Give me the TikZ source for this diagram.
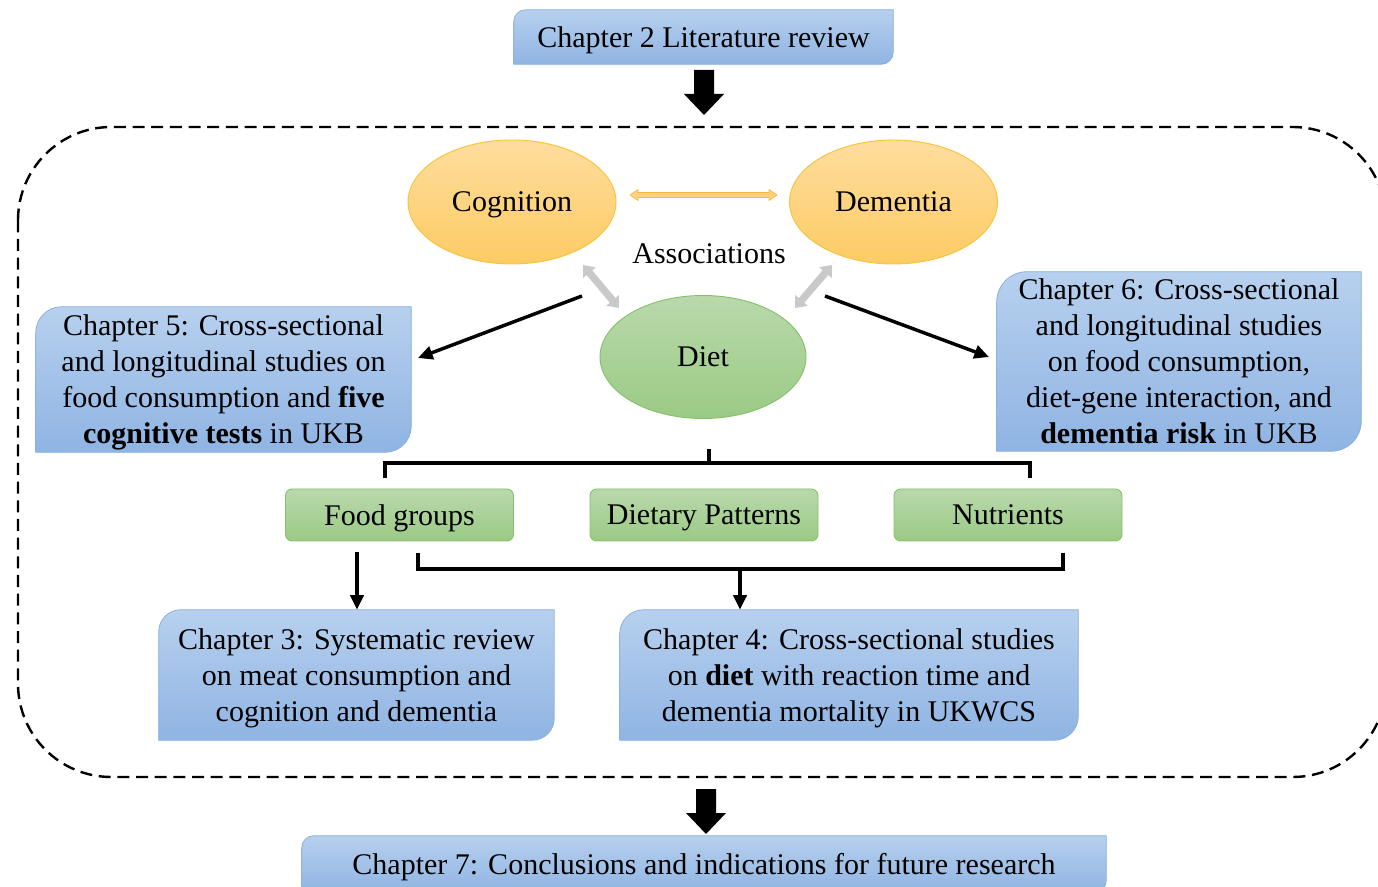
\documentclass[tikz,border=0pt]{standalone}
\usepackage{fontspec}
\setmainfont{Liberation Serif}
\usetikzlibrary{calc,arrows.meta,shapes.geometric}
\pgfdeclarelayer{bg}
\pgfsetlayers{bg,main}

\definecolor{bluetop}{HTML}{B7D0EE}
\definecolor{bluebot}{HTML}{8FB4E3}
\definecolor{blueline}{HTML}{8AB0E0}
\definecolor{orgtop}{HTML}{FEDD9E}
\definecolor{orgbot}{HTML}{FCCB63}
\definecolor{orgline}{HTML}{F8C33E}
\definecolor{grntop}{HTML}{B9D9AB}
\definecolor{grnbot}{HTML}{9BCA85}
\definecolor{grnline}{HTML}{86C06A}
\definecolor{arrowgray}{HTML}{C9C9C9}
\definecolor{assocfill}{HTML}{FFD27F}
\definecolor{assocline}{HTML}{F5B942}

% chapter box: top-left and bottom-right corners rounded (#2 = radius in px)
\newcommand\chapterback[2]{%
  \path[chapfill] let \p1=(#1.north west), \p2=(#1.south east), \p3=(#2,0) in
    (\x1,\y2) -- (\x1,\y1-\x3)
    .. controls (\x1,\y1-0.448*\x3) and (\x1+0.448*\x3,\y1) .. (\x1+\x3,\y1)
    -- (\x2,\y1) -- (\x2,\y2+\x3)
    .. controls (\x2,\y2+0.448*\x3) and (\x2-0.448*\x3,\y2) .. (\x2-\x3,\y2)
    -- cycle;}

% thick downward block arrow, #1 = top centre of the shaft
\newcommand\downblock[1]{%
  \fill[black] (#1) ++(-10,0) -- ++(20,0) -- ++(0,24) -- ++(10,0)
    -- ++(-20,21) -- ++(-20,-21) -- ++(10,0) -- cycle;}

\begin{document}
\begin{tikzpicture}[x=0.75pt,y=-0.75pt,
  font=\fontsize{22.5}{27}\selectfont,
  every node/.style={text depth=0pt},
  boxsize/.style 2 args={minimum width={0.75pt*#1}, minimum height={0.75pt*#2}},
  chapter/.style={align=center, inner sep=0pt},
  chapfill/.style={draw=blueline, line width=0.6pt, top color=bluetop, bottom color=bluebot},
  oval/.style={ellipse, inner sep=0pt, line width=0.7pt, boxsize={208}{124}},
  orangeoval/.style={oval, draw=orgline, top color=orgtop, bottom color=orgbot},
  greenoval/.style={oval, draw=grnline, top color=grntop, bottom color=grnbot},
  group/.style={rectangle, rounded corners=5pt, draw=grnline, line width=0.7pt,
    top color=grntop, bottom color=grnbot, inner sep=0pt, boxsize={228}{52}},
  conn/.style={line width=2.6pt, black},
  tip/.style={-{Triangle[length=11pt,width=10pt]}},
  grayarrow/.style={line width=5.5pt, arrowgray,
    {Triangle[length=7.5pt,width=12pt]}-{Triangle[length=7.5pt,width=12pt]}},
  dashbox/.style={line width=1.8pt, dash pattern=on 9pt off 5pt, rounded corners=70pt}
]
\useasboundingbox (0,0) rectangle (1378,887);

% chapters
\node[chapter, boxsize={379}{54}] (ch2) at (703.5,37) {Chapter 2 Literature review};
\node[chapter, boxsize={375}{145}] (ch5) at (223.5,379.5)
  {Chapter 5: Cross-sectional\\ and longitudinal studies on\\ food consumption and \textbf{five}\\ \textbf{cognitive tests} in UKB};
\node[chapter, boxsize={364}{179}] (ch6) at (1179,361.5)
  {Chapter 6: Cross-sectional\\ and longitudinal studies\\ on food consumption,\\ diet-gene interaction, and\\ \textbf{dementia risk} in UKB};
\node[chapter, boxsize={395}{130}] (ch3) at (356.5,675)
  {Chapter 3: Systematic review\\ on meat consumption and\\ cognition and dementia};
\node[chapter, boxsize={458}{130}] (ch4) at (849,675)
  {Chapter 4: Cross-sectional studies\\ on \textbf{diet} with reaction time and\\ dementia mortality in UKWCS};
\node[chapter, boxsize={804}{56}] (ch7) at (704,864)
  {Chapter 7: Conclusions and indications for future research};

\begin{pgfonlayer}{bg}
  \chapterback{ch2}{12}
  \chapterback{ch5}{26}
  \chapterback{ch6}{30}
  \chapterback{ch3}{22}
  \chapterback{ch4}{24}
  \chapterback{ch7}{12}
\end{pgfonlayer}

% frame around the study chapters
\draw[dashbox] (18,127) rectangle (1386,777);

% block arrows into and out of the frame
\coordinate (topflow) at (704,70);
\coordinate (botflow) at (706,789);
\downblock{topflow}
\downblock{botflow}

% cognition, dementia and diet
\node[orangeoval] (cog) at (512,202) {Cognition};
\node[orangeoval] (dem) at (893.5,202) {Dementia};
\node[greenoval, boxsize={206}{123}] (diet) at (703,357) {Diet};
\node (assoc) at (709,254) {Associations};

% association arrows
\coordinate (o1) at (630,195);
\filldraw[fill=assocfill, draw=assocline, line width=0.5pt]
  (o1) -- ++(8,-5.5) -- ++(0,3) -- ++(131,0) -- ++(0,-3) -- ++(8,5.5)
  -- ++(-8,5.5) -- ++(0,-3) -- ++(-131,0) -- ++(0,3) -- cycle;
\coordinate (g1a) at (583,265);
\coordinate (g1b) at (619,308);
\coordinate (g2a) at (832,265);
\coordinate (g2b) at (795,308);
\draw[grayarrow] (g1a) -- (g1b);
\draw[grayarrow] (g2a) -- (g2b);

% diet towards chapters 5 and 6
\coordinate (d5) at (582,296);
\coordinate (a5) at (418,358);
\coordinate (d6) at (825,296);
\coordinate (a6) at (989,357);
\draw[conn, tip] (d5) -- (a5);
\draw[conn, tip] (d6) -- (a6);

% diet components
\node[group] (food) at (399.5,515) {Food groups};
\node[group] (pattern) at (704,515) {Dietary Patterns};
\node[group] (nutr) at (1008,515) {Nutrients};

\coordinate (stem) at (709,449);
\coordinate (j1) at (709,463);
\coordinate (brL) at (385,478);
\coordinate (brR) at (1030,478);
\draw[conn] (stem) -- (j1);
\draw[conn] (brL) |- (j1) -| (brR);

% components towards chapters 3 and 4
\coordinate (fgdown) at (357,552);
\draw[conn, tip] (fgdown) -- (fgdown |- ch3.north);
\coordinate (b2L) at (418,553);
\coordinate (b2R) at (1063,553);
\coordinate (j2) at (740,569);
\draw[conn] (b2L) |- (j2) -| (b2R);
\draw[conn, tip] (j2) -- (j2 |- ch4.north);
\end{tikzpicture}
\end{document}
